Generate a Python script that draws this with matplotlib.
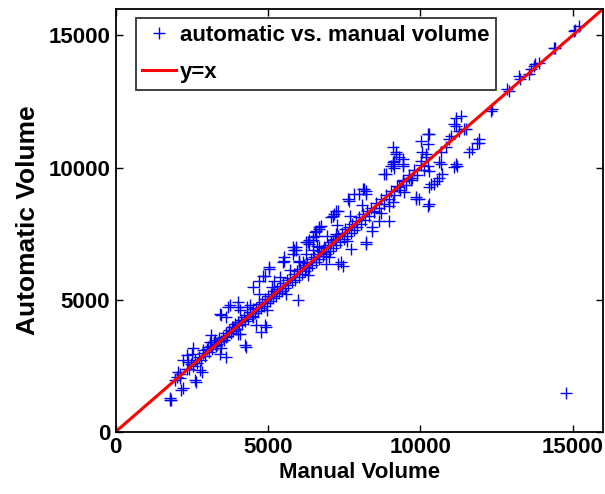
import numpy as np
import matplotlib.pyplot as plt

# -------------------------------------------------------------------------
# DATA
# -------------------------------------------------------------------------
# scattered points around the band
manual_sparse = [
    1780, 1830, 1780, 2160, 2210, 2000, 2100, 1940, 2050, 2100, 2600, 2650, 2760, 2820,
    2210, 2330, 2380, 2330, 2490, 2540, 2870, 3030, 3140, 3090, 3470, 3420, 3250, 3310,
    3630, 3630, 3470, 3420, 3740, 3690, 4010, 4400, 4070, 4010, 4620, 4890, 4780, 4290,
    4230, 4940, 3850, 3630, 4010, 4070, 4500, 4500, 4720, 4830, 4890, 5050, 5050, 5210,
    5540, 5490, 5540, 5820, 5930, 5870, 5820, 5930, 6250, 6690, 6910, 7290, 7400, 5980,
    6030, 6140, 6250, 6800, 6850, 7120, 6250, 6310, 6360, 6360, 6470, 6470, 6470, 6530,
    6580, 6580, 6690, 6690, 6740, 7240, 7070, 7120, 7180, 7240, 7290, 7620, 7670, 7840,
    8000, 8110, 8160, 8220, 8220, 7450, 7730, 8220, 8220, 8430, 8430, 8980, 8650, 8980,
    8490, 8820, 8870, 9040, 9090, 9090, 9140, 9140, 9200, 9090, 9200, 9310, 9420, 9420,
    9420, 9310, 9420, 9640, 9740, 9860, 9860, 9960, 10240, 10290, 10290, 10350, 10450, 10560,
    10620, 10730, 10240, 10290, 10180, 10180, 10020, 10070, 10240, 10020, 10290, 10240, 10620, 10670,
    10670, 10840, 10950, 11000, 11110, 11160, 11330, 11160, 11220, 11110, 11270, 11490, 11440, 11160,
    11600, 11710, 11870, 11930, 11930, 12310, 12360, 12910, 12850, 13240, 13290, 13560, 13620, 13730,
    13780, 13890, 14380, 14440, 15040, 15090, 15200, 14770,
]
auto_sparse = [
    1260, 1200, 1200, 1570, 1640, 2080, 2020, 1950, 2260, 2200, 1950, 1890, 2330, 2260,
    2710, 2890, 2640, 2390, 2960, 3150, 3080, 3210, 3650, 3400, 3150, 2960, 3460, 3270,
    3590, 2830, 4400, 4470, 4780, 4720, 4720, 4780, 3710, 3710, 4030, 4030, 3770, 3210,
    3270, 3960, 3960, 4340, 4910, 4590, 4340, 5470, 5720, 5910, 5910, 6170, 6230, 5720,
    6600, 6420, 6480, 6730, 6860, 6860, 6980, 6980, 6730, 6980, 6360, 6360, 6420, 4970,
    6480, 6420, 6230, 6790, 6980, 7240, 7170, 7170, 7110, 7240, 7240, 6860, 7360, 7550,
    7420, 7610, 7680, 7740, 7800, 7490, 8110, 8180, 8240, 8370, 8370, 8810, 8750, 9000,
    9000, 9190, 9190, 9120, 9000, 6290, 6920, 7170, 7110, 7610, 7740, 7990, 7990, 8560,
    8370, 9750, 9750, 10070, 10190, 10130, 10250, 10000, 10570, 10760, 10510, 10380, 10320, 10130,
    10070, 9250, 9500, 9620, 9620, 8810, 8870, 8810, 8560, 8620, 9250, 9370, 9370, 9500,
    9620, 9750, 10070, 9880, 10380, 10510, 10250, 10570, 10880, 11010, 11260, 11260, 10190, 10130,
    10570, 10760, 11070, 11200, 11640, 11890, 11950, 10130, 10070, 10010, 11390, 11450, 11450, 11580,
    10570, 10700, 10940, 10940, 11070, 12140, 12210, 12900, 12960, 13460, 13340, 13530, 13720, 13840,
    13900, 13960, 14530, 14530, 15160, 15220, 15350, 1470,
]

# dense core along the diagonal
manual_core = [
    2420, 2470, 2530, 2610, 2680, 2740, 2790, 2860, 2930, 2990, 3060, 3120, 3170, 3230,
    3290, 3340, 3400, 3460, 3510, 3560, 3610, 3660, 3720, 3770, 3810, 3860, 3910, 3960,
    4010, 4060, 4110, 4160, 4210, 4260, 4310, 4360, 4410, 4460, 4510, 4560, 4610, 4660,
    4710, 4760, 4810, 4860, 4910, 4960, 5010, 5060, 5110, 5160, 5210, 5260, 5310, 5360,
    5410, 5460, 5510, 5560, 5620, 5670, 5720, 5780, 5840, 5890, 5950, 6010, 6060, 6120,
    6180, 6230, 6290, 6350, 6400, 6460, 6520, 6570, 6630, 6690, 6740, 6800, 6860, 6910,
    6970, 7030, 7080, 7140, 7200, 7250, 7310, 7370, 7420, 7480, 7540, 7590, 7650, 7710,
    7760, 7820, 7880, 7930, 7990, 8050, 8110, 8170, 8240, 8320, 8390, 8470, 8550, 8630,
    8710, 8800, 8880, 8960, 9050, 9140, 9230, 9330, 9420, 9520, 9620, 9710, 9810, 9900,
    10010, 10120,
    4320, 4690, 5120, 5380, 5730, 6020, 6610, 6930, 7280, 7690, 8080, 7580, 7020, 6330,
    5580, 4980, 8720, 9110, 9480,
]
auto_core = [
    2380, 2560, 2480, 2700, 2590, 2820, 2700, 2990, 2850, 3130, 3000, 3230, 3120, 3390,
    3250, 3330, 3560, 3420, 3600, 3470, 3750, 3640, 3850, 3720, 3960, 3800, 4060, 3900,
    4150, 4020, 4230, 4080, 4350, 4200, 4400, 4270, 4520, 4380, 4650, 4480, 4700, 4560,
    4830, 4700, 4920, 4760, 5040, 4870, 5130, 4960, 5220, 5060, 5330, 5150, 5420, 5260,
    5510, 5330, 5610, 5430, 5760, 5540, 5820, 5650, 5960, 5760, 6080, 5870, 6160, 5980,
    6300, 6090, 6400, 6180, 6520, 6310, 6620, 6420, 6730, 6520, 6850, 6640, 6960, 6730,
    7080, 6850, 7170, 6960, 7310, 7080, 7420, 7180, 7530, 7300, 7660, 7420, 7760, 7520,
    7880, 7640, 7990, 7750, 8110, 7880, 8230, 8000, 8340, 8150, 8480, 8300, 8640, 8460,
    8790, 8620, 8960, 8790, 9110, 8970, 9300, 9140, 9510, 9330, 9700, 9520, 9890, 9720,
    10080, 9900,
    4710, 5230, 5490, 5840, 6120, 6430, 7030, 7390, 7820, 8170, 8590, 7230, 6610, 5930,
    5210, 4620, 8280, 8690, 9070,
]

manual_vol = np.array(manual_sparse + manual_core)
auto_vol = np.array(auto_sparse + auto_core)

ref_line = [0, 16000]

# -------------------------------------------------------------------------
# PLOT
# -------------------------------------------------------------------------
plt.rcParams["font.family"] = ["Liberation Sans", "DejaVu Sans"]
plt.rcParams["font.weight"] = "bold"

fig = plt.figure(figsize=(6.05, 4.94), dpi=100)
ax = fig.add_axes([0.1912, 0.1261, 0.8055, 0.8557])

ax.plot(manual_vol, auto_vol, "+", color="#0000ff", ms=8, mew=1.0,
        label="automatic vs. manual volume")
ax.plot(ref_line, ref_line, "-", color="#ff0000", lw=2.2, label="y=x")

ax.set_xlim(0, 16000)
ax.set_ylim(0, 16000)
ax.set_xticks([0, 5000, 10000, 15000])
ax.set_yticks([0, 5000, 10000, 15000])
ax.tick_params(direction="in", length=5, width=1.0, top=True, right=True,
               labelsize=16, pad=4)
for lab in ax.get_xticklabels() + ax.get_yticklabels():
    lab.set_fontweight("bold")
for sp in ax.spines.values():
    sp.set_linewidth(1.3)

ax.set_xlabel("Manual Volume", fontsize=16, fontweight="bold", labelpad=3)
ax.set_ylabel("Automatic Volume", fontsize=19, fontweight="bold", labelpad=6)

leg = ax.legend(loc="upper left", bbox_to_anchor=(0.041, 0.979),
                frameon=True, fancybox=False, handlelength=1.5, handletextpad=0.2,
                borderpad=0.3, borderaxespad=0, labelspacing=0.75,
                prop={"weight": "bold", "size": 16})
leg.get_frame().set_edgecolor("black")
leg.get_frame().set_linewidth(1.3)

fig.savefig("out.png", dpi=100)
